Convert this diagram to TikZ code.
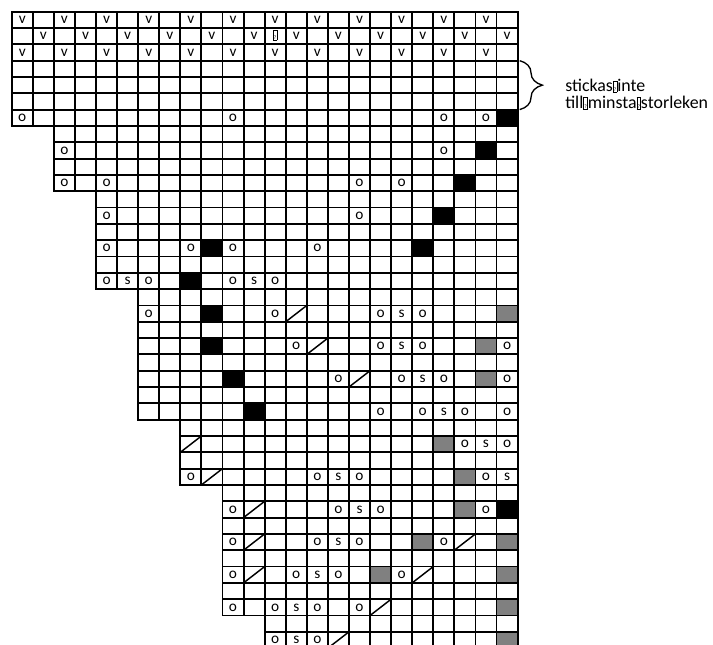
\documentclass[tikz,border=0pt]{standalone}
\usepackage{fontspec}
\setmainfont{Carlito}
\usetikzlibrary{decorations.pathreplacing,positioning}

% a glyph the chart font could not show
\newcommand\gapmark{{\setlength\fboxsep{0.3pt}\setlength\fboxrule{0.4pt}%
  \fbox{\raisebox{0pt}[0.55em][0pt]{\fontsize{4}{4}\selectfont ?}}}}

\begin{document}
\begin{tikzpicture}[
  x=15.81pt, y=-12.24pt,
  gridline/.style={line width=1.4pt},
  stitch/.style={font=\fontsize{11.5}{12}\selectfont,inner sep=0pt},
  blackcell/.style={fill=black},
  greycell/.style={fill=black!50},
  slash/.style={line width=1.1pt},
  bracepath/.style={line width=1pt,decorate,decoration={brace,amplitude=17pt}}
]
\clip (-0.555,-0.717) rectangle (33.27,38.80);

% filled cells
\foreach \r/\c in {7/24,9/23,11/22,13/21,15/10,15/20,17/9,19/10,21/10,23/11,25/12,31/24}
  \fill[blackcell] (\c-1,\r-1) rectangle (\c,\r);
\foreach \r/\c in {19/24,21/23,23/23,27/21,29/22,31/22,33/20,33/24,35/18,35/24,37/24,39/24}
  \fill[greycell] (\c-1,\r-1) rectangle (\c,\r);

% the stepped grid
\foreach \a/\b/\l in {1/7/1,8/11/3,12/17/5,18/25/7,26/29/9,30/37/11,38/39/13}
  \foreach \r in {\a,...,\b}
    \foreach \c in {\l,...,24}
      \draw[gridline] (\c-1,\r-1) rectangle (\c,\r);

% slipped stitches
\foreach \r in {1,3}
  \foreach \c in {1,3,...,23}
    \node[stitch] (v-\r-\c) at (\c-0.5,\r-0.5) {v};
\foreach \c in {2,4,...,24}
  \node[stitch] (v-2-\c) at (\c-0.5,1.5) {v};
\node[stitch] (q-2-13) at (12.5,1.45) {\gapmark};

% yarn overs
\foreach \r/\c in {7/1,7/11,7/21,7/23,9/3,9/21,11/3,11/5,11/17,11/19,13/5,13/17,
    15/5,15/9,15/11,15/15,17/5,17/7,17/11,17/13,19/7,19/13,19/18,19/20,
    21/14,21/18,21/20,21/24,23/16,23/19,23/21,23/24,25/18,25/20,25/22,25/24,
    27/22,27/24,29/9,29/15,29/17,29/23,31/11,31/16,31/18,31/23,
    33/11,33/15,33/17,33/21,35/11,35/14,35/16,35/19,37/11,37/13,37/15,37/17,
    39/13,39/15}
  \node[stitch] (o-\r-\c) at (\c-0.5,\r-0.5) {o};

% slip, knit, pass over
\foreach \r/\c in {17/6,17/12,19/19,21/19,23/20,25/21,27/23,29/16,29/24,
    31/17,33/16,35/15,37/14,39/14}
  \node[stitch] (s-\r-\c) at (\c-0.5,\r-0.5) {s};

% decreases
\foreach \r/\c in {19/14,21/15,23/17,27/9,29/10,31/12,33/12,33/22,35/12,35/20,37/18,39/16}
  \draw[slash] (\c-1,\r) -- (\c,\r-1);

% note on the smallest size
\coordinate (bracetop) at (24.1,3);
\coordinate (bracebot) at (24.1,6);
\draw[bracepath] (bracetop) -- (bracebot);
\node (note) [anchor=west,align=left,inner sep=0pt,
  font=\fontsize{13.4}{12.6}\selectfont] at (26.25,5.05)
  {stickas\gapmark inte\\till\gapmark minsta\gapmark storleken};
\end{tikzpicture}
\end{document}
